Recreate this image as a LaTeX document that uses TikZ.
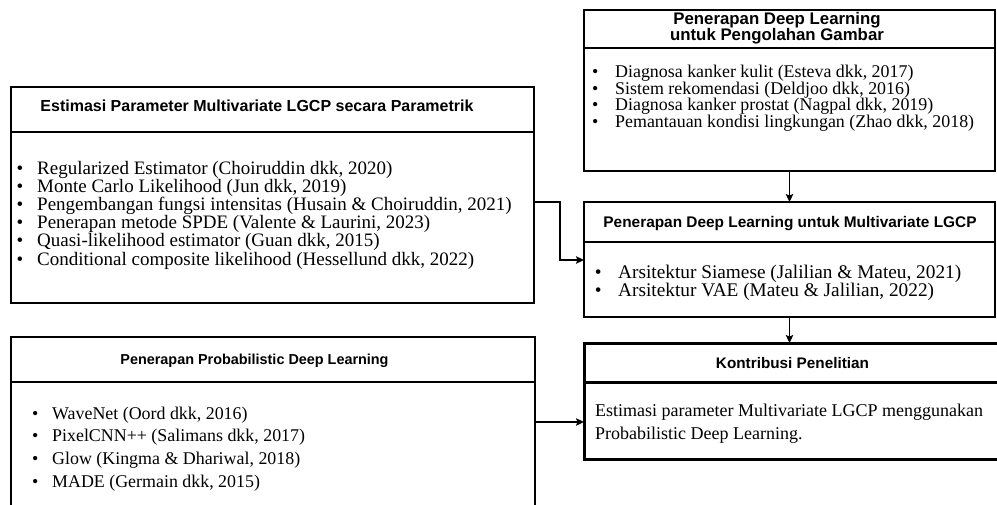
\documentclass[tikz,border=0pt]{standalone}
\usepackage{fontspec}
\setmainfont{Liberation Serif}
\newfontfamily\headfont{Liberation Sans}
\usetikzlibrary{arrows.meta}

% body text of a list line, with its bullet hanging to the left
\newcommand\bul[2]{\llap{\textbullet\hspace{#1pt}}#2}

\begin{document}
\begin{tikzpicture}[x=1pt,y=-1pt,
  frame/.style={draw, line width=1.3pt, inner sep=0pt, outer sep=0pt, anchor=north west},
  heavyframe/.style={frame, line width=3pt},
  rule/.style={line width=1.3pt},
  heavyrule/.style={line width=3pt},
  head/.style={inner sep=0pt, anchor=base, font=\headfont\bfseries\fontsize{#1}{#1}\selectfont},
  body/.style={inner sep=0pt, anchor=base west, font=\fontsize{#1}{#1}\selectfont},
  arr/.style={line width=1.3pt, -{Stealth[length=8pt,width=7.5pt,inset=1.5pt]}}
]
\useasboundingbox (0,0) rectangle (997,504);

% ---- parametric estimation box
\node[frame, minimum width=523pt, minimum height=216pt] (param) at (11,87) {};
\draw[rule] (11,132) -- (534,132);
\node[head=16] (paramH) at (257,111.5) {Estimasi Parameter Multivariate LGCP secara Parametrik};
\node[body=19] (p1) at (37,174.0) {\bul{13.8}{Regularized Estimator (Choiruddin dkk, 2020)}};
\node[body=19] (p2) at (37,192.2) {\bul{13.8}{Monte Carlo Likelihood (Jun dkk, 2019)}};
\node[body=19] (p3) at (37,210.4) {\bul{13.8}{Pengembangan fungsi intensitas (Husain \& Choiruddin, 2021)}};
\node[body=19] (p4) at (37,228.6) {\bul{13.8}{Penerapan metode SPDE (Valente \& Laurini, 2023)}};
\node[body=19] (p5) at (37,246.8) {\bul{13.8}{Quasi-likelihood estimator (Guan dkk, 2015)}};
\node[body=19] (p6) at (37,265.0) {\bul{13.8}{Conditional composite likelihood (Hessellund dkk, 2022)}};

% ---- probabilistic deep learning box
\node[frame, minimum width=524pt, minimum height=170pt] (prob) at (11,337) {};
\draw[rule] (11,382) -- (535,382);
\node[head=14.4] (probH) at (254.5,364.5) {Penerapan Probabilistic Deep Learning};
\node[body=17.9] (q1) at (52,419.0) {\bul{13.9}{WaveNet (Oord dkk, 2016)}};
\node[body=17.9] (q2) at (52,441.7) {\bul{13.9}{PixelCNN++ (Salimans dkk, 2017)}};
\node[body=17.9] (q3) at (52,464.4) {\bul{13.9}{Glow (Kingma \& Dhariwal, 2018)}};
\node[body=17.9] (q4) at (52,487.1) {\bul{13.9}{MADE (Germain dkk, 2015)}};

% ---- image processing box
\node[frame, minimum width=411pt, minimum height=161pt] (img) at (584,10) {};
\draw[rule] (584,48) -- (995,48);
\node[head=16.8] (imgH1) at (777,24) {Penerapan Deep Learning};
\node[head=16.8] (imgH2) at (777,40) {untuk Pengolahan Gambar};
\node[body=17.9] (r1) at (615,77) {\bul{16.9}{Diagnosa kanker kulit (Esteva dkk, 2017)}};
\node[body=17.9] (r2) at (615,94) {\bul{16.9}{Sistem rekomendasi (Deldjoo dkk, 2016)}};
\node[body=17.9] (r3) at (615,110) {\bul{16.9}{Diagnosa kanker prostat (Nagpal dkk, 2019)}};
\node[body=17.9] (r4) at (615,127) {\bul{16.9}{Pemantauan kondisi lingkungan (Zhao dkk, 2018)}};

% ---- deep learning for multivariate LGCP box
\node[frame, minimum width=411pt, minimum height=115pt] (lgcp) at (584,202) {};
\draw[rule] (584,242) -- (995,242);
\node[head=15.4] (lgcpH) at (790,227.2) {Penerapan Deep Learning untuk Multivariate LGCP};
\node[body=19.3] (s1) at (618,278) {\bul{16.6}{Arsitektur Siamese (Jalilian \& Mateu, 2021)}};
\node[body=19.3] (s2) at (618,296) {\bul{16.6}{Arsitektur VAE (Mateu \& Jalilian, 2022)}};

% ---- research contribution box
\node[heavyframe, minimum width=420pt, minimum height=116pt] (contrib) at (584,343) {};
\draw[heavyrule] (584,382) -- (1004,382);
\node[head=15.3] (contribH) at (792.5,368.8) {Kontribusi Penelitian};
\node[body=18] (t1) at (595,416) {Estimasi parameter Multivariate LGCP menggunakan};
\node[body=18] (t2) at (595,439) {Probabilistic Deep Learning.};

% ---- connectors
\coordinate (elbow) at (560,260);
\draw[arr] ([yshift=-7pt]param.east) -| (elbow) -- (elbow -| lgcp.west);
\draw[arr] (prob.east) -- (prob.east -| contrib.west);
\draw[arr] (img.south) -- (lgcp.north);
\draw[arr] (lgcp.south) -- (lgcp.south |- contrib.north);
\end{tikzpicture}
\end{document}
